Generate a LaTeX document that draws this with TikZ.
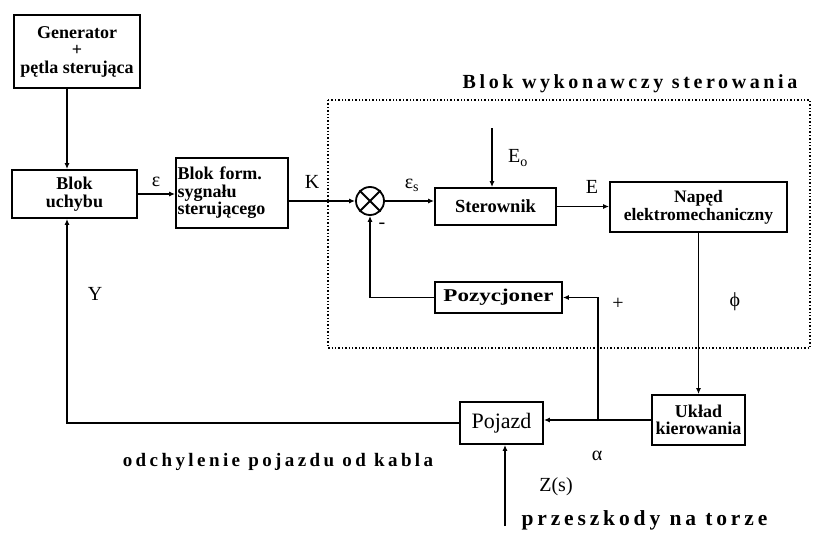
\documentclass[tikz,border=0pt]{standalone}
\usepackage{fontspec}
\setmainfont{Liberation Serif}
\newfontfamily\spacedfont[LetterSpace=18]{Liberation Serif}
\usepackage{tikz}
\usetikzlibrary{arrows.meta,positioning,calc}
\tikzset{
  blockbox/.style={
    draw,line width=1.8pt,align=center,inner sep=2pt,
    font=\fontsize{18}{17.5}\selectfont\bfseries
  },
  sigline/.style={line width=1.3pt},
  sigarrow/.style={sigline,-{Latex[length=6pt,width=5pt]}},
  siglabel/.style={font=\fontsize{20}{21}\selectfont},
  titletext/.style={font=\fontsize{20}{21}\selectfont\spacedfont\bfseries},
  framebox/.style={dotted,line width=1.4pt}
}

\begin{document}
\begin{tikzpicture}[x=1pt,y=-1pt]
  \useasboundingbox (0,0) rectangle (814,538);
  % frame of the executive block
  \draw[framebox] (328,100) rectangle (810,348);
  \node[titletext] (title) at (630,84) {Blok wykonawczy sterowania};

  % blocks
  \node[blockbox,minimum width=126pt,minimum height=73pt] (gen) at (77,51.5)
    {Generator\\+\\pętla sterująca};
  \node[blockbox,minimum width=125pt,minimum height=48pt] (uchyb) at (74.5,194)
    {Blok\\uchybu};
  \node[blockbox,minimum width=112pt,minimum height=70pt,align=left,
    text width=109pt,inner sep=1pt] (form) at (232,193)
    {Blok form.\\sygnału\\sterującego};
  \node[draw,circle,line width=1.8pt,minimum size=28pt,inner sep=0pt] (sum) at (370,201) {};
  \draw[line width=1.8pt] (sum.north west) -- (sum.south east)
    (sum.north east) -- (sum.south west);
  \node[blockbox,minimum width=121pt,minimum height=37pt,
    font=\fontsize{18.5}{19}\selectfont\bfseries] (ster) at (495.5,206.5)
    {Sterownik};
  \node[blockbox,minimum width=177pt,minimum height=50pt,
    font=\fontsize{17.5}{18}\selectfont\bfseries] (naped) at (698.5,207)
    {Napęd\\elektromechaniczny};
  \node[blockbox,minimum width=127pt,minimum height=31pt] (pozyc) at (498.5,297.5)
    {\scalebox{1.28}[1]{Pozycjoner}};
  \node[blockbox,minimum width=93pt,minimum height=50pt] (uklad) at (698.5,420)
    {Układ\\kierowania};
  \node[blockbox,minimum width=83pt,minimum height=42pt,
    font=\fontsize{22}{22}\selectfont] (pojazd) at (501.5,423) {Pojazd};

  % free ends
  \coordinate (ly) at (67,0);
  \coordinate (e0) at (492,128);
  \coordinate (br) at (598,421);
  \coordinate (zs) at (505,526);

  % signals
  \draw[sigarrow] (gen.south -| ly) -- (uchyb.north -| ly);
  \draw[sigarrow] (uchyb.east) -- (uchyb.east -| form.west);
  \draw[sigarrow] (sum.west -| form.east) -- (sum.west);
  \draw[sigarrow] (sum.east) -- (sum.east -| ster.west);
  \draw[sigarrow] (e0) -- (e0 |- ster.north);
  \draw[sigarrow] (ster.east) -- (ster.east -| naped.west);
  \draw[sigarrow] (naped.south) -- (uklad.north);
  \draw[sigarrow] (uklad.west) -- (uklad.west -| pojazd.east);
  \draw[sigarrow] (br) |- (pozyc.east);
  \draw[sigarrow] (pozyc.west) -| (sum.south);
  \draw[sigarrow] (pojazd.west) -| (uchyb.south -| ly);
  \draw[sigarrow] (zs) -- (zs |- pojazd.south);

  % labels
  \node[siglabel] (leps) at (156,182) {ε};
  \node[siglabel] (lk) at (312,182) {K};
  \node[siglabel] (les) at (412,185) {ε$_{\mathrm{s}}$};
  \node[siglabel] (le0) at (518,158) {E$_{\mathrm{o}}$};
  \node[siglabel] (le) at (592,187) {E};
  \node[siglabel] (lminus) at (382,226) {-};
  \node[siglabel] (lplus) at (618,304) {+};
  \node[siglabel] (lphi) at (735,302) {ϕ};
  \node[siglabel] (lyy) at (95,294) {Y};
  \node[siglabel] (lalpha) at (597,456) {α};
  \node[siglabel] (lzs) at (556,487) {Z(s)};
  \node[titletext,font=\fontsize{19}{20}\selectfont\spacedfont\bfseries] (odch) at (278,462)
    {odchylenie pojazdu od kabla};
  \node[titletext,anchor=west,font=\fontsize{21.5}{22}\selectfont\spacedfont\bfseries] (przes) at (518,520)
    {przeszkody na torze};
\end{tikzpicture}
\end{document}
